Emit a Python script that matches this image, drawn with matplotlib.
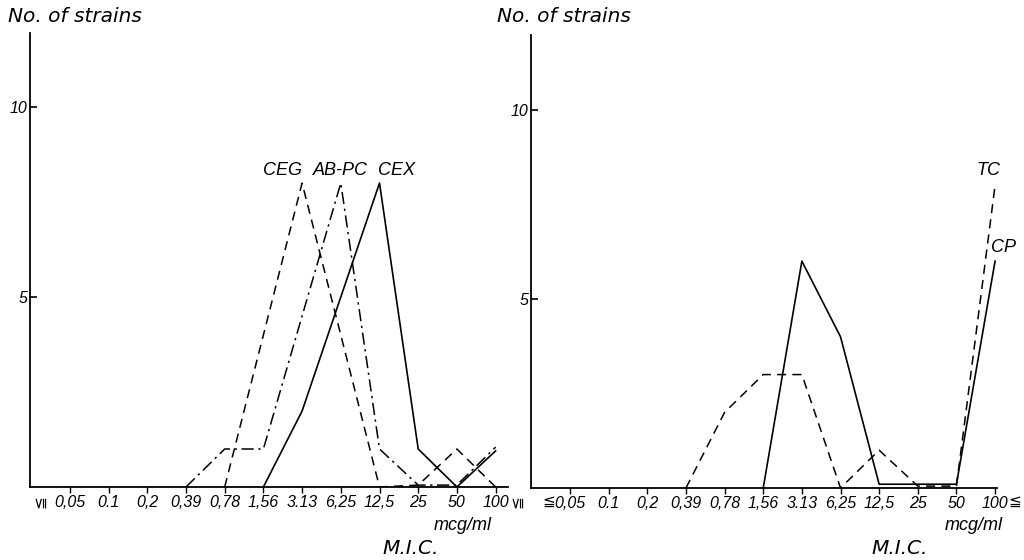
import numpy as np
import matplotlib
matplotlib.use('Agg')
import matplotlib.pyplot as plt

plt.rcParams['font.family'] = ['Liberation Sans', 'DejaVu Sans']

# M.I.C. classes (mcg/ml)
mic_labels = ['0,05', '0.1', '0,2', '0,39', '0,78', '1,56', '3.13', '6,25', '12,5', '25', '50', '100']
nan = np.nan

# left panel: number of strains per M.I.C. class
ceg = [nan, nan, nan, nan, 0, 4, 8, 4, 0, 0.05, 1, 0]
abpc = [nan, nan, nan, 0, 1, 1, 4.5, 8, 1, 0.05, 0.05, 1.05]
cex = [nan, nan, nan, nan, nan, 0, 2, 5, 8, 1, 0, 0.95]

# right panel
tc = [nan, nan, nan, 0, 2, 3, 3, 0, 1, 0.05, 0.05, 8]
cp = [nan, nan, nan, nan, nan, 0, 6, 4, 0.1, 0.1, 0.1, 6]

W, H = 1024, 560
dashed = (0, (6, 4))
dashdot = (0, (8, 3, 1.5, 3))


def setup(ax, xlim, ylim):
    ax.set_xlim(*xlim)
    ax.set_ylim(*ylim)
    for s in ['top', 'right']:
        ax.spines[s].set_visible(False)
    for s in ['left', 'bottom']:
        ax.spines[s].set_linewidth(1.3)
    ax.set_xticks(range(len(mic_labels)))
    ax.set_xticklabels(mic_labels, fontstyle='italic', fontsize=11.5)
    ax.tick_params(axis='x', direction='out', length=4, width=1, pad=2)
    ax.set_yticks([5, 10])
    ax.set_yticklabels(['5', '10'], fontstyle='italic', fontsize=11.5)
    ax.tick_params(axis='y', direction='in', length=5, width=1.2, pad=2)


def px(x, y):
    return x / W, 1 - y / H


x = np.arange(len(mic_labels))
fig = plt.figure(figsize=(10.24, 5.6), dpi=100)

# left panel
ax1 = fig.add_axes([30/W, 1-487/H, 478/W, 454/H])
setup(ax1, (-1.03, 11.32), (0, 11.95))
ax1.plot(x, ceg, c='k', lw=1.1, ls=dashed)
ax1.plot(x, abpc, c='k', lw=1.1, ls=dashdot)
ax1.plot(x, cex, c='k', lw=1.2)
ax1.text(5.5, 8.34, 'CEG', ha='center', va='center', fontstyle='italic', fontsize=13)
ax1.text(7.0, 8.34, 'AB-PC', ha='center', va='center', fontstyle='italic', fontsize=13)
ax1.text(8.45, 8.34, 'CEX', ha='center', va='center', fontstyle='italic', fontsize=13)

# right panel
ax2 = fig.add_axes([531/W, 1-488/H, 466/W, 453/H])
setup(ax2, (-1.01, 11.05), (0, 11.98))
ax2.plot(x, tc, c='k', lw=1.1, ls=dashed)
ax2.plot(x, cp, c='k', lw=1.2)
ax2.text(10.82, 8.4, 'TC', ha='center', va='center', fontstyle='italic', fontsize=13)
ax2.text(11.23, 6.35, 'CP', ha='center', va='center', fontstyle='italic', fontsize=13)

# "≦" signs on first and last classes (rotated on the left panel)
for xx in [40, 517]:
    fig.text(*px(xx, 502), '≦', rotation=90, ha='center', va='center', fontsize=11)
for xx in [549, 1015]:
    fig.text(*px(xx, 502), '≦', ha='center', va='center', fontsize=11)

for x0 in [8, 497]:
    fig.text(*px(x0, 16), 'No. of strains', ha='left', va='center',
             fontstyle='italic', fontsize=14.5, family='DejaVu Sans')

fig.text(*px(492, 526), 'mcg/ml', ha='right', va='center', fontstyle='italic', fontsize=13)
fig.text(*px(411, 549), 'M.I.C.', ha='center', va='center', fontstyle='italic',
         fontsize=14.5, family='DejaVu Sans')
fig.text(*px(1003, 526), 'mcg/ml', ha='right', va='center', fontstyle='italic', fontsize=13)
fig.text(*px(900, 549), 'M.I.C.', ha='center', va='center', fontstyle='italic',
         fontsize=14.5, family='DejaVu Sans')

fig.savefig('out.png', dpi=100)
